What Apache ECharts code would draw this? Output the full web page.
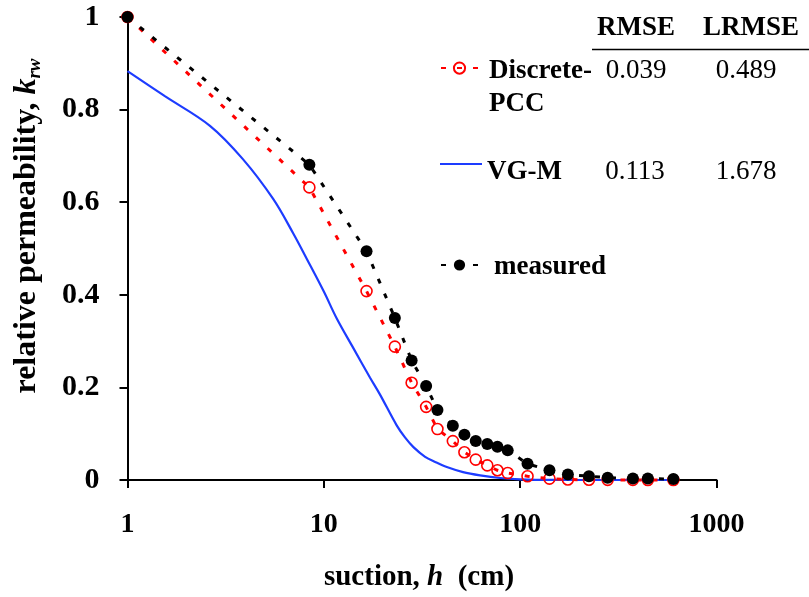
<!DOCTYPE html>
<html>
<head>
<meta charset="utf-8">
<script src="https://cdn.jsdelivr.net/npm/echarts@6/dist/echarts.min.js"></script>
<style>
  html, body { margin: 0; padding: 0; background: #fff; }
  #chart { width: 809px; height: 597px; }
</style>
</head>
<body>
<div id="chart"></div>
<script>
// Suction heads (cm) of the measured points; the Discrete-PCC estimates share them
const suction = [1, 8.44, 16.5, 23.0, 28.0, 33.2, 37.9, 45.4, 52.0, 59.4, 68.0, 76.6, 86.4, 109, 141, 175, 224, 279, 375, 447, 603];
// Measured relative permeability k_rw
const krMeasured = [1, 0.681, 0.494, 0.350, 0.258, 0.203, 0.151, 0.117, 0.098, 0.084, 0.078, 0.072, 0.064, 0.035, 0.021, 0.012, 0.008, 0.005, 0.003, 0.003, 0.002];
// Discrete-PCC prediction
const krDiscretePCC = [1, 0.632, 0.408, 0.288, 0.210, 0.158, 0.110, 0.084, 0.060, 0.044, 0.0315, 0.021, 0.015, 0.008, 0.003, 0.001, 0.0005, 0.0003, 0.0002, 0.0001, 0.0001];
// VG-M (van Genuchten-Mualem) curve
const vgmSuction = [1, 1.55, 2.63, 3.87, 5.52, 7.0, 8.18, 10, 11.6, 14, 17.2, 19.3, 23.5, 25.9, 28.6, 32.8, 36.9, 42.3, 51.2, 62.5, 79, 100, 150, 250, 603];
const vgmKr = [0.883, 0.829, 0.765, 0.693, 0.607, 0.532, 0.478, 0.407, 0.350, 0.288, 0.221, 0.185, 0.118, 0.092, 0.071, 0.050, 0.039, 0.028, 0.017, 0.010, 0.0043, 0.0015, 0.0002, 0, 0];
// Axis ticks
const xTicks = [1, 10, 100, 1000];
const yTicks = [0, 0.2, 0.4, 0.6, 0.8, 1];
// Fit statistics table
const statHeaders = ['RMSE', 'LRMSE'];
const statRows = [
  { model: 'Discrete-PCC', rmse: '0.039', lrmse: '0.489' },
  { model: 'VG-M', rmse: '0.113', lrmse: '1.678' }
];

const SERIF = '"Liberation Serif", "Times New Roman", Times, serif';
const RED = '#ff0000';
const BLUE = '#1d3cff';

const pairs = (xs, ys) => xs.map((x, i) => [x, ys[i]]);

const chart = echarts.init(document.getElementById('chart'), null, { renderer: 'canvas' });

// legend labels: a blank spacer line ("s") nudges the label below the icon's centre
const legendRich = (spacer, padLeft) => ({
  fontFamily: SERIF, fontWeight: 'bold', fontSize: 27, color: '#000',
  padding: [0, 0, 0, padLeft],
  rich: {
    s: { fontSize: spacer, lineHeight: spacer },
    a: { fontFamily: SERIF, fontWeight: 'bold', fontSize: 27, color: '#000', lineHeight: 33 }
  }
});

const titleRich = {
  i: { fontFamily: SERIF, fontWeight: 'bold', fontStyle: 'italic', fontSize: 32, fill: '#000', lineHeight: 36 },
  sub: { fontFamily: SERIF, fontWeight: 'bold', fontStyle: 'italic', fontSize: 19, fill: '#000', lineHeight: 36, verticalAlign: 'bottom' }
};

const option = {
  animation: false,
  backgroundColor: '#fff',
  grid: { left: 127.5, right: 92.5, top: 17, bottom: 114, containLabel: false },
  xAxis: {
    type: 'log',
    logBase: 10,
    min: xTicks[0],
    max: xTicks[xTicks.length - 1],
    axisLine: { show: true, lineStyle: { color: '#000', width: 2 } },
    axisTick: { show: true, length: 8, lineStyle: { color: '#000', width: 2 } },
    minorTick: { show: false },
    splitLine: { show: false },
    axisLabel: {
      fontFamily: SERIF, fontWeight: 'bold', fontSize: 28, color: '#000', margin: 31,
      formatter: v => String(Math.round(v))
    },
    name: 'suction, {i|h}  (cm)',
    nameLocation: 'middle',
    nameGap: 83,
    nameTextStyle: {
      fontFamily: SERIF, fontWeight: 'bold', fontSize: 29, color: '#000', padding: [0, 6, 0, 0],
      rich: { i: { fontFamily: SERIF, fontWeight: 'bold', fontStyle: 'italic', fontSize: 29, color: '#000' } }
    }
  },
  yAxis: {
    type: 'value',
    min: yTicks[0],
    max: yTicks[yTicks.length - 1],
    interval: 0.2,
    axisLine: { show: true, lineStyle: { color: '#000', width: 2 } },
    axisTick: { show: true, length: 8, lineStyle: { color: '#000', width: 2 } },
    splitLine: { show: false },
    axisLabel: {
      fontFamily: SERIF, fontWeight: 'bold', fontSize: 30, color: '#000', margin: 28,
      formatter: v => (v === 0 ? '0' : v === 1 ? '1' : v.toFixed(1))
    }
  },
  legend: [
    {
      data: ['Discrete-PCC'], left: 440, top: 68.3 - (38.4 + 66) / 2, padding: 0,
      itemWidth: 37, itemHeight: 14, selectedMode: false,
      formatter: () => '{s| }\n{a|Discrete-}\n{a|PCC}',
      textStyle: legendRich(38.4, 6)
    },
    {
      data: [{ name: 'VG-M', icon: 'rect' }], left: 440, top: 164 - (16 + 33) / 2, padding: 0,
      itemWidth: 42, itemHeight: 2.2, selectedMode: false,
      formatter: name => '{s| }\n{a|' + name + '}',
      textStyle: legendRich(16, 0)
    },
    {
      data: ['measured'], left: 440, top: 265 - (4 + 33) / 2, padding: 0,
      itemWidth: 37, itemHeight: 14, selectedMode: false,
      formatter: name => '{s| }\n{a|' + name + '}',
      textStyle: legendRich(4, 11)
    }
  ],
  graphic: [
    {
      type: 'text', x: 27, y: 226, rotation: Math.PI / 2,
      style: {
        text: 'relative permeability, {i|k}{sub|rw}',
        font: 'bold 32px ' + SERIF, fill: '#000', lineHeight: 36,
        align: 'center', verticalAlign: 'middle', rich: titleRich
      }
    },
    { type: 'text', left: 636 - 39, top: 31 - 16, style: { text: statHeaders[0], font: 'bold 27px ' + SERIF, fill: '#000' } },
    { type: 'text', left: 752 - 49, top: 31 - 16, style: { text: statHeaders[1], font: 'bold 27px ' + SERIF, fill: '#000' } },
    { type: 'line', shape: { x1: 592, y1: 49.5, x2: 809, y2: 49.5 }, style: { stroke: '#000', lineWidth: 1.5 } },
    { type: 'text', x: 636, y: 71, style: { text: statRows[0].rmse, font: '27px ' + SERIF, fill: '#000', align: 'center', verticalAlign: 'middle' } },
    { type: 'text', x: 746, y: 71, style: { text: statRows[0].lrmse, font: '27px ' + SERIF, fill: '#000', align: 'center', verticalAlign: 'middle' } },
    { type: 'text', x: 635, y: 172, style: { text: statRows[1].rmse, font: '27px ' + SERIF, fill: '#000', align: 'center', verticalAlign: 'middle' } },
    { type: 'text', x: 746, y: 172, style: { text: statRows[1].lrmse, font: '27px ' + SERIF, fill: '#000', align: 'center', verticalAlign: 'middle' } }
  ],
  series: [
    {
      name: 'VG-M',
      type: 'line',
      data: pairs(vgmSuction, vgmKr),
      symbol: 'none',
      smooth: 0.35,
      clip: false,
      z: 2,
      lineStyle: { color: BLUE, width: 2.2 },
      itemStyle: { color: BLUE }
    },
    {
      name: 'Discrete-PCC',
      type: 'line',
      data: pairs(suction, krDiscretePCC),
      symbol: 'circle',
      symbolSize: 11,
      showAllSymbol: true,
      clip: false,
      z: 3,
      lineStyle: { color: RED, width: 3, type: [5, 11] },
      itemStyle: { color: 'rgba(255,255,255,0)', borderColor: RED, borderWidth: 1.6 }
    },
    {
      name: 'measured',
      type: 'line',
      data: pairs(suction, krMeasured),
      symbol: 'circle',
      symbolSize: 12,
      showAllSymbol: true,
      clip: false,
      z: 4,
      lineStyle: { color: '#000', width: 3, type: [5, 11] },
      itemStyle: { color: '#000' }
    }
  ]
};

chart.setOption(option);
</script>
</body>
</html>
